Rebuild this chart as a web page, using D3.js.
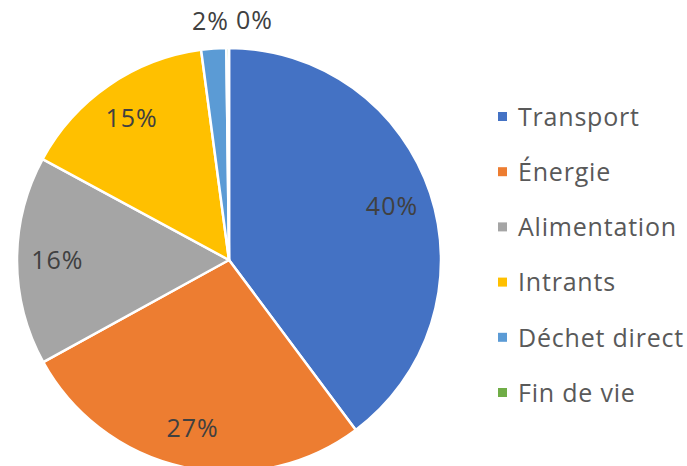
<!DOCTYPE html>
<head>
  <meta charset="utf-8">
  <script src="https://d3js.org/d3.v7.min.js"></script>
  <style>
    body { margin: 0; background: #fff; }
    .slice { stroke: #fff; stroke-width: 2.5; stroke-linejoin: round; }
    .label { font-family: "Open Sans", sans-serif; font-size: 25px; letter-spacing: 1px; fill: #404040; }
    .legend text { font-family: "Open Sans", sans-serif; font-size: 25px; letter-spacing: 0.8px; fill: #595959; }
  </style>
</head>
<body>
<div id="chart"></div>
<script>
// data
var categories = ['Transport', 'Énergie', 'Alimentation', 'Intrants', 'Déchet direct', 'Fin de vie'];
var values = [39.8, 27.2, 15.9, 15.0, 1.9, 0.2];
var colors = ['#4472C4', '#ED7D31', '#A5A5A5', '#FFC000', '#5B9BD5', '#70AD47'];

var width = 687, height = 466;
var cx = 229, cy = 260, r = 212;

var svg = d3.select('#chart').append('svg')
    .attr('width', width)
    .attr('height', height);

var total = d3.sum(values);
var data = categories.map(function(c, i) { return {name: c, value: values[i]}; });

var pie = d3.pie().sort(null).value(function(d) { return d.value; });
var arc = d3.arc().innerRadius(0).outerRadius(r);
var labelArc = d3.arc().innerRadius(r * 0.81).outerRadius(r * 0.81);
var outerArc = d3.arc().innerRadius(r * 1.13).outerRadius(r * 1.13);
var color = d3.scaleOrdinal().domain(categories).range(colors);

var arcs = pie(data);

var g = svg.append('g').attr('transform', 'translate(' + cx + ',' + cy + ')');

g.selectAll('path')
    .data(arcs)
  .enter().append('path')
    .attr('class', 'slice')
    .attr('d', arc)
    .style('fill', function(d) { return color(d.data.name); });

var fmt = function(d) { return Math.round(d.data.value / total * 100) + '%'; };

// labels: inside for big slices, outside on top for tiny ones
g.selectAll('text.label')
    .data(arcs)
  .enter().append('text')
    .attr('class', 'label')
    .attr('dy', '0.35em')
    .attr('text-anchor', function(d, i) {
      if (d.endAngle - d.startAngle > 0.3) return 'middle';
      return i === arcs.length - 1 ? 'start' : 'end';
    })
    .attr('transform', function(d, i) {
      if (d.endAngle - d.startAngle > 0.3) return 'translate(' + labelArc.centroid(d) + ')';
      var p = outerArc.centroid(d);
      // side-by-side above the pie
      var x = i === arcs.length - 1 ? 7 : 0;
      return 'translate(' + x + ',' + p[1] + ')';
    })
    .text(fmt);

// legend
var legend = svg.append('g')
    .attr('class', 'legend')
    .attr('transform', 'translate(498,117)');

var y = d3.scalePoint().domain(categories).range([0, 276]);

var item = legend.selectAll('g')
    .data(categories)
  .enter().append('g')
    .attr('transform', function(d) { return 'translate(0,' + y(d) + ')'; });

item.append('rect')
    .attr('x', 0).attr('y', -5)
    .attr('width', 9).attr('height', 9)
    .style('fill', function(d) { return color(d); });

item.append('text')
    .attr('x', 20)
    .attr('dy', '0.35em')
    .text(function(d) { return d; });
</script>
</body>
